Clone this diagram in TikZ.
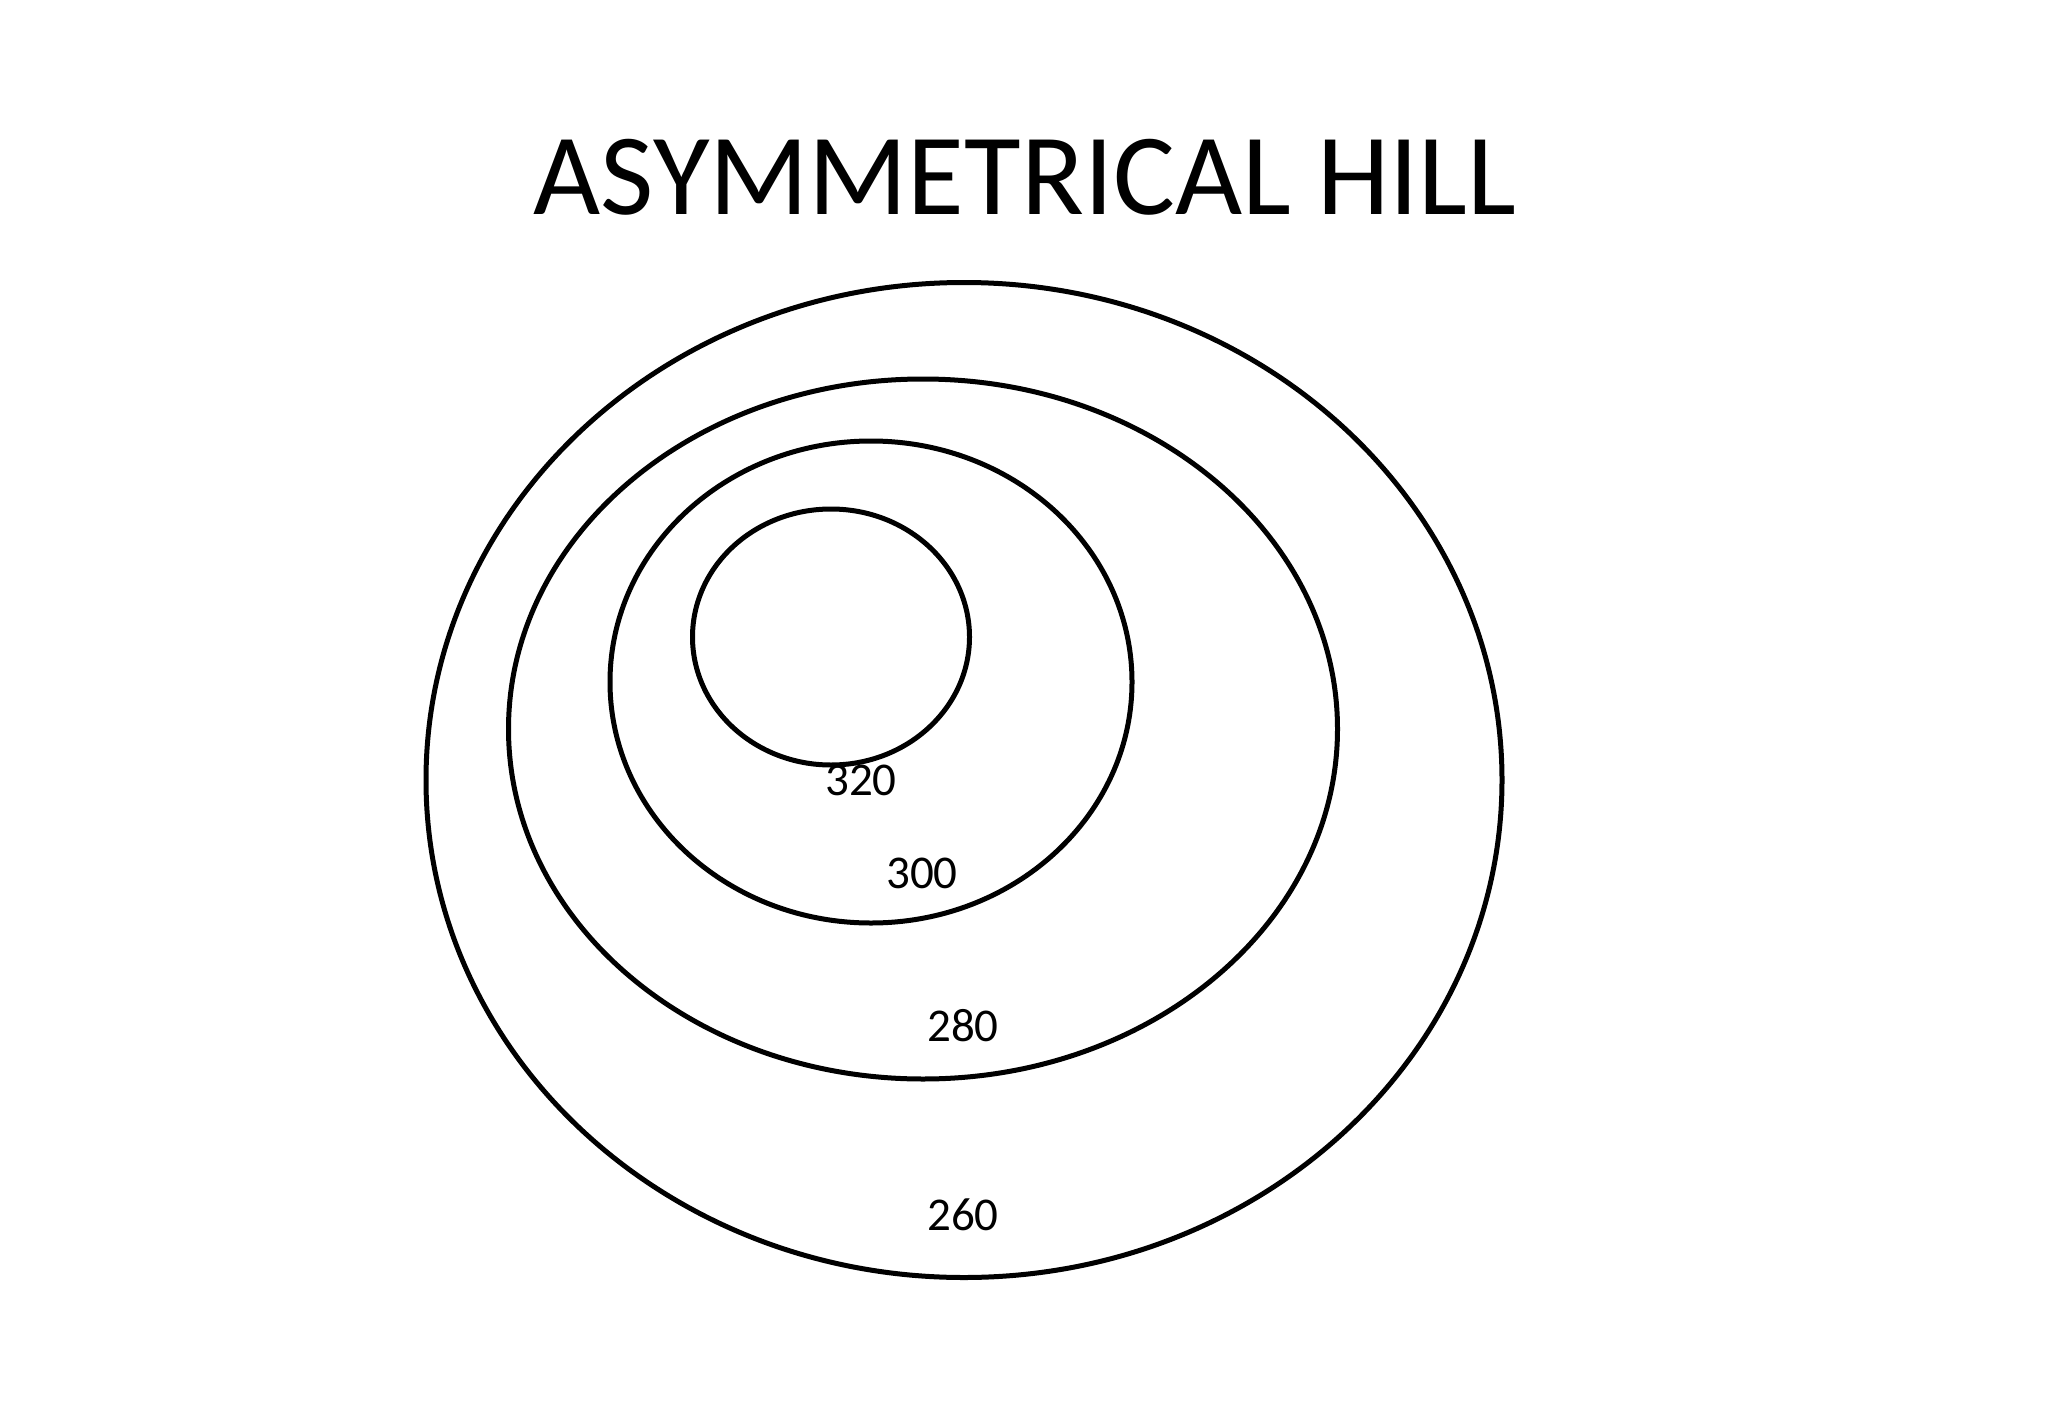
\documentclass[tikz,border=0pt]{standalone}
\usepackage{fontspec}
\setmainfont{Carlito}
\usetikzlibrary{shapes.geometric}
\begin{document}
\begin{tikzpicture}[x=1pt,y=-1pt,
  contour/.style={draw=black,line width=5pt,ellipse,inner sep=0pt,outer sep=0pt},
  lbl/.style={inner sep=0pt,font=\fontsize{47}{50}\selectfont},
  ttl/.style={inner sep=0pt,font=\fontsize{116}{120}\selectfont}]
\useasboundingbox (0,0) rectangle (2048,1418);
\node[contour,minimum width=1076pt,minimum height=995pt] (c260) at (964,780) {};
\node[contour,minimum width=829pt,minimum height=700pt] (c280) at (923,729) {};
\node[contour,minimum width=522pt,minimum height=482pt] (c300) at (871,682) {};
\node[contour,minimum width=277pt,minimum height=256pt] (c320) at (831,637) {};
\node[ttl,anchor=base] (title) at (1025,214) {ASYMMETRICAL HILL};
\node[lbl,anchor=base] (l320) at (861,795) {320};
\node[lbl,anchor=base] (l300) at (922,888) {300};
\node[lbl,anchor=base] (l280) at (963,1041) {280};
\node[lbl,anchor=base] (l260) at (963,1230) {260};
\end{tikzpicture}
\end{document}
